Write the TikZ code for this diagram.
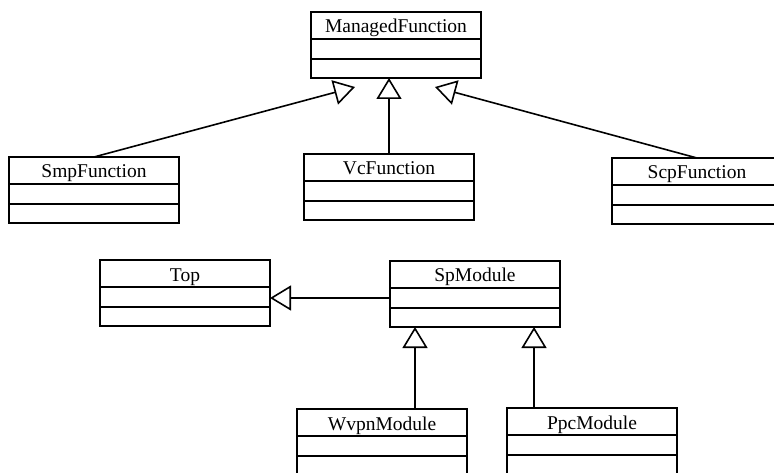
\documentclass[tikz,border=0pt]{standalone}
\usepackage{fontspec}
\setmainfont{Liberation Serif}
\usepackage{tikz}
\usetikzlibrary{positioning,arrows.meta}

\begin{document}
\begin{tikzpicture}[
    x=1pt, y=-1pt,
    cls/.style={draw, line width=1.5pt, outer sep=0pt, inner sep=0pt,
        minimum width=170pt,
        font=\fontsize{19.5}{22}\selectfont},
    titlebox/.style={cls, minimum height=27pt, anchor=north west,
        text height=15pt, text depth=0pt},
    attrbox/.style={cls, minimum height=20pt},
    opbox/.style={cls, minimum height=19pt},
    inherit/.style={line width=1.6pt,
        -{Triangle[open, length=21pt, width=25pt, line width=1.6pt]}}
]

    \useasboundingbox (0,0) rectangle (774,473);

    %------------------------------------------------
    % Function classes
    %------------------------------------------------

    \node[titlebox] (mf) at (311,12) {ManagedFunction};
    \node[attrbox, below=0pt of mf] (mf-a) {};
    \node[opbox, below=0pt of mf-a] (mf-o) {};

    \node[titlebox] (smp) at (9,157) {SmpFunction};
    \node[attrbox, below=0pt of smp] (smp-a) {};
    \node[opbox, below=0pt of smp-a] (smp-o) {};

    \node[titlebox] (vc) at (304,154) {VcFunction};
    \node[attrbox, below=0pt of vc] (vc-a) {};
    \node[opbox, below=0pt of vc-a] (vc-o) {};

    \node[titlebox] (scp) at (612,158) {ScpFunction};
    \node[attrbox, below=0pt of scp] (scp-a) {};
    \node[opbox, below=0pt of scp-a] (scp-o) {};

    %------------------------------------------------
    % Module classes
    %------------------------------------------------

    \node[titlebox] (top) at (100,260) {Top};
    \node[attrbox, below=0pt of top] (top-a) {};
    \node[opbox, below=0pt of top-a] (top-o) {};

    \node[titlebox] (sp) at (390,261) {SpModule};
    \node[attrbox, below=0pt of sp] (sp-a) {};
    \node[opbox, below=0pt of sp-a] (sp-o) {};

    \node[titlebox] (wvpn) at (297,409) {WvpnModule};
    \node[attrbox, below=0pt of wvpn] (wvpn-a) {};
    \node[opbox, below=0pt of wvpn-a] (wvpn-o) {};

    \node[titlebox] (ppc) at (507,408) {PpcModule};
    \node[attrbox, below=0pt of ppc] (ppc-a) {};
    \node[opbox, below=0pt of ppc-a] (ppc-o) {};

    %------------------------------------------------
    % Generalisations
    %------------------------------------------------

    \coordinate (mfL) at (355,87);
    \coordinate (mfR) at (435,87);
    \coordinate (wvpnUp) at (415,409);
    \coordinate (ppcUp) at (534,408);

    \draw[inherit] (smp.north) -- (mfL);
    \draw[inherit] (vc.north) -- (vc.north |- mf-o.south);
    \draw[inherit] (scp.north) -- (mfR);

    \draw[inherit] (sp-a.west) -- (sp-a.west -| top.east);
    \draw[inherit] (wvpnUp) -- (wvpnUp |- sp-o.south);
    \draw[inherit] (ppcUp) -- (ppcUp |- sp-o.south);

\end{tikzpicture}
\end{document}
